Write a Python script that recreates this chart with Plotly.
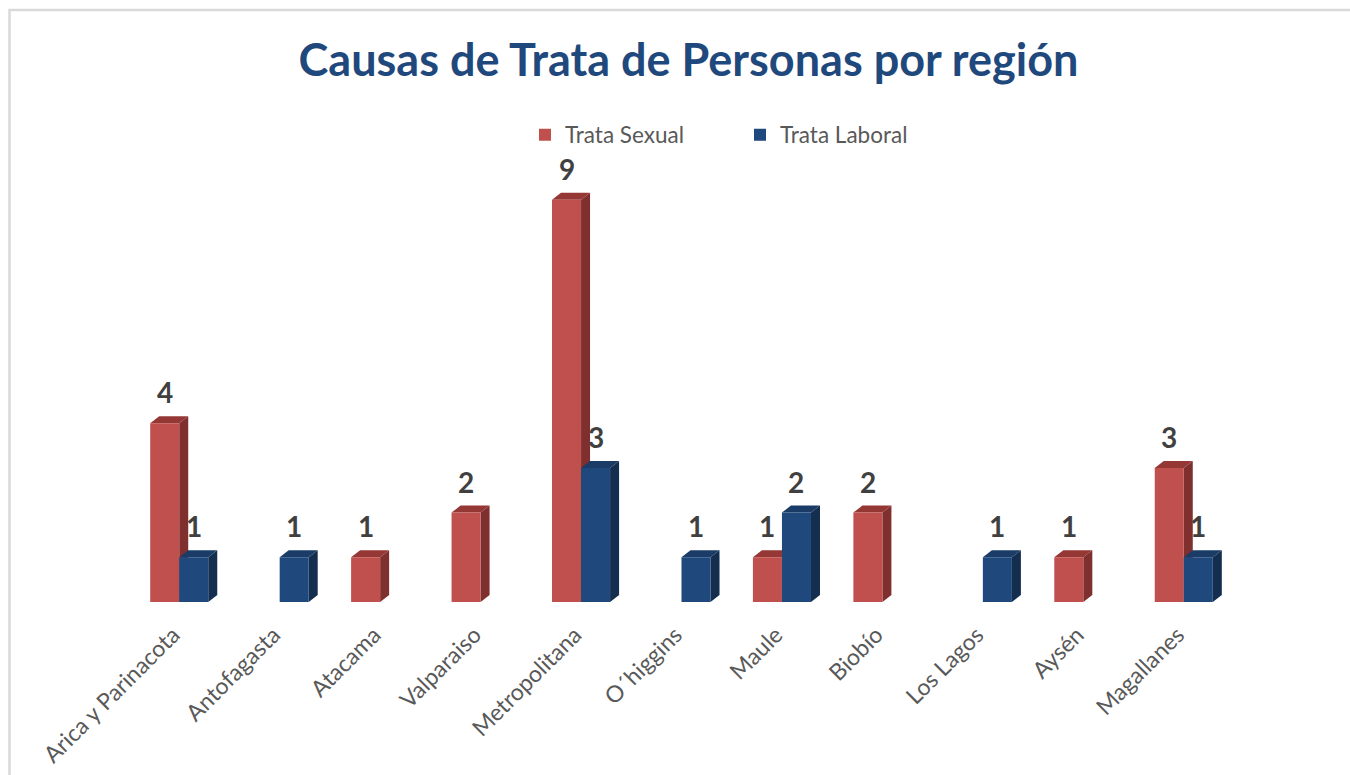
import plotly.graph_objects as go

categories = ["Arica y Parinacota", "Antofagasta", "Atacama", "Valparaiso", "Metropolitana",
              "O´higgins", "Maule", "Biobío", "Los Lagos", "Aysén", "Magallanes"]
trata_sexual = [4, None, 1, 2, 9, None, 1, 2, None, 1, 3]
trata_laboral = [1, 1, None, None, 3, 1, 2, None, 1, None, 1]

W, H = 1350, 775
ML, MR, MT, MB = 129, 116, 155, 173
PW, PH = W - ML - MR, H - MT - MB
YMAX = 10.0
BW = 0.289            # bar width in category units
DX_PX, DY_PX = 9, 7   # 3D depth in px
dx = DX_PX * 11.0 / PW
dy = DY_PX * YMAX / PH

FONT = "Lato"
series = [
    ("Trata Sexual", trata_sexual, -BW, "#C0504D", "#7F2F2D", "#953735"),
    ("Trata Laboral", trata_laboral, 0.0, "#1F497D", "#142E50", "#1A3C66"),
]

fig = go.Figure()
shapes = []
annotations = []
xs = list(range(len(categories)))
for name, vals, off, front, side, top in series:
    fig.add_trace(go.Bar(
        name=name, x=xs, y=vals, offset=off, width=BW,
        marker=dict(color=front, line=dict(width=0)),
        hoverinfo="x+y",
    ))
    for i, v in enumerate(vals):
        if v is None:
            continue
        xl = i + off
        xr = xl + BW
        shapes.append(dict(
            type="path", xref="x", yref="y", layer="below",
            path=f"M {xr},0 L {xr+dx},{dy} L {xr+dx},{v+dy} L {xr},{v} Z",
            fillcolor=side, line=dict(width=0)))
        shapes.append(dict(
            type="path", xref="x", yref="y", layer="below",
            path=f"M {xl},{v} L {xl+dx},{v+dy} L {xr+dx},{v+dy} L {xr},{v} Z",
            fillcolor=top, line=dict(width=0)))
        annotations.append(dict(
            x=xl + BW / 2, y=v, xref="x", yref="y", text=f"<b>{v}</b>",
            showarrow=False, yanchor="bottom", yshift=12,
            font=dict(family=FONT, size=28, color="#404040")))

# chart-area border (top and left edges)
bx = (9.5 - ML) / PW
by = (H - MB - 10) / PH
shapes.append(dict(
    type="path", xref="paper", yref="paper", layer="above",
    path=f"M {bx},{-(MB + 5) / PH} L {bx},{by} L {(W - ML + 5) / PW},{by}",
    line=dict(color="#D9D9D9", width=2.5)))

fig.update_layout(
    width=W, height=H,
    margin=dict(l=ML, r=MR, t=MT, b=MB, autoexpand=False),
    paper_bgcolor="white", plot_bgcolor="rgba(0,0,0,0)",
    barmode="overlay",
    title=dict(text="<b>Causas de Trata de Personas por región</b>",
               x=688.5 / W, xanchor="center", xref="container",
               y=1 - 60 / H, yanchor="middle", yref="container",
               font=dict(family=FONT, size=45, color="#1F497D")),
    legend=dict(orientation="h", x=525 / W, xanchor="left", xref="container",
                y=1 - 135 / H, yanchor="middle", yref="container",
                font=dict(family=FONT, size=22.5, color="#595959"),
                entrywidth=170, bgcolor="rgba(0,0,0,0)"),
    xaxis=dict(range=[-0.5, 10.5], tickvals=[i - 0.06 for i in xs], ticktext=categories,
               tickangle=-45, showgrid=False, zeroline=False, showline=False,
               ticks="", ticklabelstandoff=14,
               tickfont=dict(family=FONT, size=23, color="#595959")),
    yaxis=dict(range=[0, YMAX], visible=False, showgrid=False, zeroline=False),
    shapes=shapes,
    annotations=annotations,
    showlegend=True,
)

fig.write_html("out.html")
